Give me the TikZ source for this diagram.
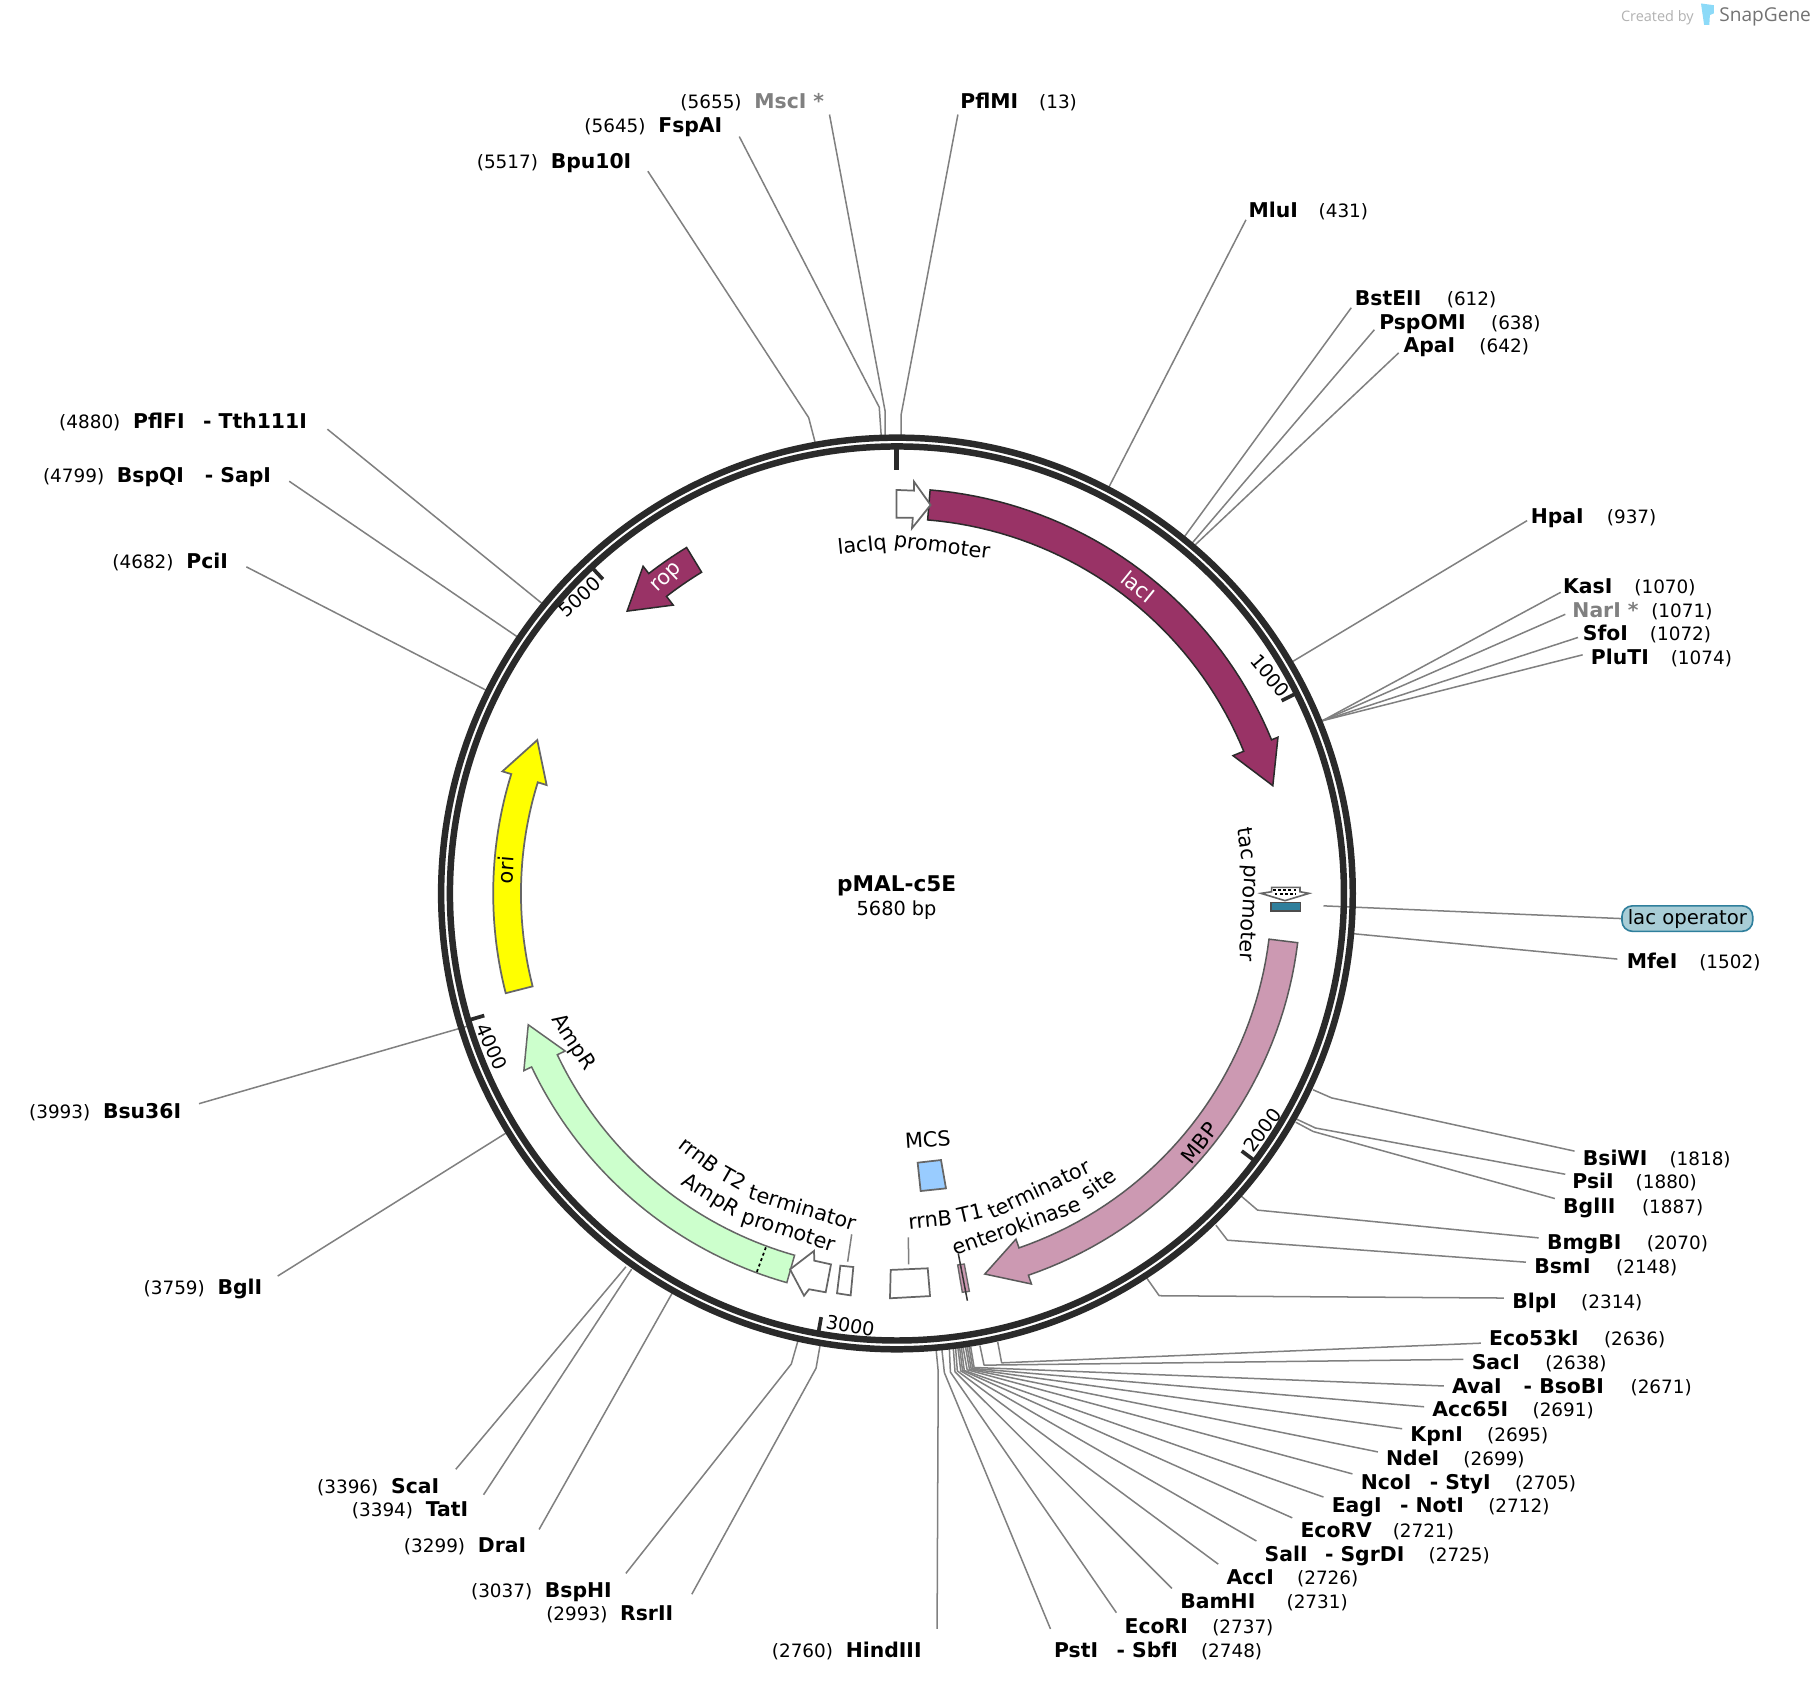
\documentclass[tikz,border=0pt]{standalone}
\usepackage{fontspec}
\setmainfont{DejaVu Sans}
\newfontfamily\brandfont{Open Sans}
\def\cx{775.3}
\def\cy{772.3}
\definecolor{ringc}{HTML}{2A2A2A}
\definecolor{linec}{HTML}{808080}
\definecolor{maroon}{HTML}{993366}
\definecolor{mbpc}{HTML}{CC99B2}
\definecolor{amprc}{HTML}{CCFFCC}
\definecolor{oric}{HTML}{FFFF00}
\definecolor{opc}{HTML}{2F7F9C}
\definecolor{pillc}{HTML}{A8CDD6}
\definecolor{mcsc}{HTML}{99CCFF}
\newcommand{\nmg}[1]{\hspace*{#1pt}}
\newcommand{\nm}[1]{{\fontsize{17.6}{20}\selectfont\bfseries #1}}
\newcommand{\gnm}[1]{{\fontsize{17.6}{20}\selectfont\bfseries\color{linec} #1}}
\newcommand{\ps}[1]{{\fontsize{15.9}{20}\selectfont #1}}
% id, x, y, label, ring, elbow, end
\newcommand{\site}[7]{%
  \node[sitelabel] (#1) at (#2,#3+4) {#4};
  \coordinate (#1-r) at (#5);
  \coordinate (#1-e) at (#6);
  \coordinate (#1-t) at (#7);
  \draw[siteline] (#1-r) -- (#1-e) -- (#1-t);
}
% style, start angle, head angle, tip angle, r in, r out, head r in, head r out, tip r
\newcommand{\featarrow}[9]{%
  \draw[#1] plot[domain=#2:#3,samples=40] ({\cx+#6*sin(\x)},{\cy-#6*cos(\x)})
    -- ({\cx+#8*sin(#3)},{\cy-#8*cos(#3)})
    -- ({\cx+#9*sin(#4)},{\cy-#9*cos(#4)})
    -- ({\cx+#7*sin(#3)},{\cy-#7*cos(#3)})
    -- plot[domain=#3:#2,samples=40] ({\cx+#5*sin(\x)},{\cy-#5*cos(\x)}) -- cycle;
}
% id, clock angle, baseline radius, rotation, word
\newcommand{\wordlab}[5]{%
  \node[wordtext,rotate=#4] (#1) at ({\cx+#3*sin(#2)},{\cy-#3*cos(#2)}) {#5};
}
\newcommand{\ticklab}[4]{\node[ticktext,rotate=#4] (t#1) at (#2,#3) {#1};}
\newcommand{\tickm}[1]{\draw[tickline] ({\cx+386*sin(#1)},{\cy-386*cos(#1)}) -- ({\cx+372*sin(#1)},{\cy-372*cos(#1)});}
\tikzset{
  sitelabel/.style={anchor=mid west,inner sep=0pt},
  siteline/.style={draw=linec,line width=1.3pt,line join=round},
  leader/.style={draw=linec,line width=1.3pt},
  tickline/.style={draw=ringc,line width=3.2pt},
  ticktext/.style={inner sep=0pt,font=\fontsize{16.5}{20}\selectfont},
  ftext/.style={inner sep=0pt,font=\fontsize{18}{20}\selectfont},
  wordtext/.style={inner sep=0pt,anchor=base,font=\fontsize{18}{20}\selectfont},
  lacstyle/.style={draw=ringc,fill=maroon,line width=1.3pt,line join=miter},
  mbpstyle/.style={draw=black!65,fill=mbpc,line width=1.3pt},
  ampstyle/.style={draw=black!60,fill=amprc,line width=1.3pt},
  oristyle/.style={draw=black!60,fill=oric,line width=1.5pt},
  hollow/.style={draw=black!60,fill=white,line width=1.5pt,line join=miter},
}
\begin{document}
\begin{tikzpicture}[x=1pt,y=-1pt]
\useasboundingbox (0,0) rectangle (1568,1453.9);
\fill[white] (0,0) rectangle (1568,1453.9);
% --- site connectors and labels
\site{PflMI}{830}{87}{\nm{PflMI}\nmg{18}\ps{(13)}}{779,381}{779,358}{828,99}
\site{MscI}{588}{87}{\ps{(5655)}\nmg{11}\gnm{MscI *}}{765,381}{765,355}{717,99}
\site{FspAI}{505}{108}{\ps{(5645)}\nmg{11}\nm{FspAI}}{762,381}{760,352}{639,118}
\site{Bpu10I}{412}{139}{\ps{(5517)}\nmg{11}\nm{Bpu10I}}{705,384}{699,361}{560,148}
\site{MluI}{1079}{181}{\nm{MluI}\nmg{18}\ps{(431)}}{957,424}{957,424}{1077,190}
\site{BstEII}{1171}{257}{\nm{BstEII}\nmg{22}\ps{(612)}}{1023,465}{1023,465}{1168,266}
\site{PspOMI}{1192}{278}{\nm{PspOMI}\nmg{22}\ps{(638)}}{1030,470}{1030,470}{1188,285}
\site{ApaI}{1213}{298}{\nm{ApaI}\nmg{21}\ps{(642)}}{1032,472}{1032,472}{1209,305}
\site{HpaI}{1323}{446}{\nm{HpaI}\nmg{20}\ps{(937)}}{1117,572}{1117,572}{1320,450}
\site{KasI}{1351}{506}{\nm{KasI}\nmg{19}\ps{(1070)}}{1143,623}{1143,623}{1349,512}
\site{NarI}{1359}{527}{\gnm{NarI *}\nmg{11}\ps{(1071)}}{1143,623}{1143,623}{1353,531}
\site{SfoI}{1368}{547}{\nm{SfoI}\nmg{19}\ps{(1072)}}{1143,623}{1143,623}{1364,551}
\site{PluTI}{1375}{568}{\nm{PluTI}\nmg{19}\ps{(1074)}}{1143,623}{1143,623}{1368,566}
\site{MfeI}{1406}{830}{\nm{MfeI}\nmg{19}\ps{(1502)}}{1169,807}{1169,807}{1398,829}
\site{BsiWI}{1368}{1001}{\nm{BsiWI}\nmg{19}\ps{(1818)}}{1135,942}{1151,949}{1361,995}
\site{PsiI}{1359}{1021}{\nm{PsiI}\nmg{19}\ps{(1880)}}{1120,967}{1137,975}{1353,1015}
\site{BglII}{1351}{1042}{\nm{BglII}\nmg{23}\ps{(1887)}}{1120,970}{1135,978}{1344,1036}
\site{BmgBI}{1337}{1073}{\nm{BmgBI}\nmg{22}\ps{(2070)}}{1073,1034}{1087,1046}{1330,1070}
\site{BsmI}{1326}{1094}{\nm{BsmI}\nmg{22}\ps{(2148)}}{1051,1059}{1061,1072}{1319,1091}
\site{BlpI}{1307}{1124}{\nm{BlpI}\nmg{21}\ps{(2314)}}{990,1103}{1002,1120}{1300,1122}
\site{Eco53kI}{1287}{1156}{\nm{Eco53kI}\nmg{22}\ps{(2636)}}{862.4,1160}{865.8,1178}{1280,1161}
\site{SacI}{1272}{1177}{\nm{SacI}\nmg{22}\ps{(2638)}}{847,1163}{850.6,1180}{1265,1175}
\site{AvaI}{1255}{1198}{\nm{AvaI}\nmg{19}\nm{- BsoBI}\nmg{23}\ps{(2671)}}{839,1164}{842,1182}{1248,1198}
\site{Acc65I}{1238}{1218}{\nm{Acc65I}\nmg{21}\ps{(2691)}}{837.6,1164}{840.8,1182.8}{1231,1216}
\site{KpnI}{1219}{1239}{\nm{KpnI}\nmg{21}\ps{(2695)}}{836,1164}{839.5,1183.3}{1212,1235}
\site{NdeI}{1198}{1260}{\nm{NdeI}\nmg{21}\ps{(2699)}}{834.5,1164}{838,1183.6}{1191,1255}
\site{NcoI}{1176}{1281}{\nm{NcoI}\nmg{16}\nm{- StyI}\nmg{21}\ps{(2705)}}{832.5,1165}{836,1184}{1169,1274}
\site{EagI}{1151}{1301}{\nm{EagI}\nmg{16}\nm{- NotI}\nmg{21}\ps{(2712)}}{831,1165}{833.5,1184.6}{1144,1294}
\site{EcoRV}{1124}{1322}{\nm{EcoRV}\nmg{18}\ps{(2721)}}{829.5,1165}{832,1184.6}{1117,1312}
\site{SalI}{1093}{1343}{\nm{SalI}\nmg{15}\nm{- SgrDI}\nmg{21}\ps{(2725)}}{828,1165}{830.5,1185}{1086,1332}
\site{AccI}{1060}{1363}{\nm{AccI}\nmg{20}\ps{(2726)}}{826,1165}{827.5,1185}{1053,1352}
\site{BamHI}{1020}{1384}{\nm{BamHI}\nmg{27}\ps{(2731)}}{824,1165}{825.5,1185.7}{1013,1373}
\site{EcoRI}{972}{1405}{\nm{EcoRI}\nmg{21}\ps{(2737)}}{820.6,1165}{821.5,1186}{965,1394}
\site{PstI}{911}{1426}{\nm{PstI}\nmg{16}\nm{- SbfI}\nmg{20}\ps{(2748)}}{814,1165}{816.3,1186.5}{908,1408}
\site{HindIII}{667}{1426}{\ps{(2760)}\nmg{11}\nm{HindIII}}{809,1165}{811,1185.6}{810,1408}
\site{RsrII}{472}{1394}{\ps{(2993)}\nmg{11}\nm{RsrII}}{709,1162}{705.4,1182.6}{598,1378}
\site{BspHI}{407}{1374}{\ps{(3037)}\nmg{11}\nm{BspHI}}{690,1158}{684,1179}{541,1360}
\site{DraI}{349}{1335}{\ps{(3299)}\nmg{11}\nm{DraI}}{582,1116}{582,1116}{466,1322}
\site{TatI}{304}{1304}{\ps{(3394)}\nmg{11}\nm{TatI}}{546,1097}{546,1097}{418,1292}
\site{ScaI}{274}{1284}{\ps{(3396)}\nmg{11}\nm{ScaI}}{541,1095}{541,1095}{394,1270}
\site{BglI}{124}{1112}{\ps{(3759)}\nmg{11}\nm{BglI}}{438,979}{438,979}{240,1103}
\site{Bsu36I}{25}{960}{\ps{(3993)}\nmg{11}\nm{Bsu36I}}{404,887}{404,887}{172,954}
\site{PciI}{97}{485}{\ps{(4682)}\nmg{11}\nm{PciI}}{421,597}{421,597}{213,490}
\site{BspQI}{37}{410}{\ps{(4799)}\nmg{11}\nm{BspQI}\nmg{18}\nm{- SapI}}{448,551}{448,551}{250,416}
\site{PflFI}{51}{364}{\ps{(4880)}\nmg{11}\nm{PflFI}\nmg{16}\nm{- Tth111I}}{469,522}{469,522}{283,371}
% lac operator pill
\node[draw=opc,fill=pillc,line width=1.4pt,rounded corners=9pt,minimum width=113pt,minimum height=22pt,inner sep=0pt,font=\fontsize{17}{20}\selectfont] (lacop) at (1458.5,794) {\raisebox{-2pt}{lac operator}};
\coordinate (lacop-r) at (1144,783);
\draw[siteline] (lacop-r) -- (lacop.west);
% --- backbone
\draw[ringc,line width=5.6pt] (\cx,\cy) circle[radius=394];
\draw[ringc,line width=5.6pt] (\cx,\cy) circle[radius=386.4];
\draw[tickline,line width=4.4pt] (\cx,\cy-388) -- (\cx,\cy-366);
\tickm{63.38}\tickm{126.76}\tickm{190.14}\tickm{253.52}\tickm{316.9}
\ticklab{1000}{1098}{584}{-50}
\ticklab{2000}{1091}{977}{53}
\ticklab{3000}{735}{1146}{-10}
\ticklab{4000}{425}{905}{-66}
\ticklab{5000}{501}{516}{43}
% --- features
\featarrow{lacstyle}{4.7}{67.7}{74}{324}{350}{314}{356}{338}
\featarrow{lacstyle}{328.7}{322.2}{316.3}{325}{350}{315.5}{358}{337.6}
\featarrow{mbpstyle}{97}{161}{167}{324}{349}{316}{357}{337.6}
\featarrow{ampstyle}{195.8}{244.6}{250.4}{325}{349.6}{317.5}{357}{338.3}
\featarrow{oristyle}{255.7}{287.2}{293.1}{325}{349}{317}{357}{338}
\coordinate (dashA) at (662,1078.2);
\coordinate (dashB) at (654,1100);
\draw[black,line width=1.5pt,dash pattern=on 2.5pt off 2.5pt] (dashA) -- (dashB);
% lacIq promoter
\draw[hollow] (775,423.5) -- (790,424.1) -- (790,416.3) -- (804.4,436.5) -- (788.3,456.6) -- (789,447.5) -- (775,447.5) -- cycle;
% AmpR promoter
\draw[hollow] (682.9,1097.2) -- (703.6,1081.3) -- (703.9,1089.7) -- (718.3,1092.9) -- (713.7,1117) -- (699.3,1114.4) -- (695,1120) -- cycle;
% rrnB T2
\draw[hollow] (726.4,1094) -- (737.6,1095.2) -- (735.3,1119.7) -- (723.5,1117.9) -- cycle;
\coordinate (t2a) at (736.2,1066.9); \coordinate (t2b) at (732.7,1090.6);
\draw[leader] (t2a) -- (t2b);
% rrnB T1
\draw[hollow] (769.9,1097.7) -- (801.9,1096.3) -- (803.9,1120.3) -- (769.3,1122.2) -- cycle;
\coordinate (t1a) at (785.2,1069.5); \coordinate (t1b) at (785.4,1092.9);
\draw[leader] (t1a) -- (t1b);
% MCS
\draw[draw=black!60,fill=mcsc,line width=1.5pt] (793.2,1005) -- (813.4,1002.7) -- (817.7,1027.2) -- (795.8,1029.5) -- cycle;
% enterokinase site
\draw[draw=black!60,fill=mbpc,line width=1.2pt] (827.8,1093.4) -- (833.5,1092.6) -- (837.9,1116.2) -- (831.8,1117) -- cycle;
\coordinate (eka) at (828.3,1083.4); \coordinate (ekb) at (836.2,1124.3);
\draw[draw=black!80,line width=1.3pt] (eka) -- (ekb);
% tac promoter
\draw[hollow,line width=1.4pt] (1099.2,767) -- (1123.7,767) -- (1123.7,770.8) -- (1131.5,772.2) -- (1110.7,778.5) -- (1090,772.2) -- (1099.2,770.8) -- cycle;
\coordinate (da) at (1100.5,769.5); \coordinate (db) at (1122.5,769.5);
\coordinate (dc) at (1102,773); \coordinate (dd) at (1120,773);
\draw[black,line width=1.5pt,dash pattern=on 2.2pt off 2.2pt] (da) -- (db);
\draw[black,line width=1.5pt,dash pattern=on 2.2pt off 2.2pt] (dc) -- (dd);
% lac operator feature
\draw[draw=black!70,fill=opc,line width=1.3pt] (1098.7,780) rectangle (1124.3,787.4);
% --- feature labels, word by word along the circle
\wordlab{lacIqA}{-5.7}{297}{5.7}{lacIq}
\wordlab{lacIqB}{7.4}{297}{-7.4}{promoter}
\wordlab{tacA}{81.9}{299}{-81.9}{tac}
\wordlab{tacB}{93.15}{299}{-93.15}{promoter}
\wordlab{tOneA}{174.2}{290}{5.8}{rrnB}
\wordlab{tOneB}{167.1}{290}{12.9}{T1}
\wordlab{tOneC}{154.4}{290}{25.6}{terminator}
\wordlab{ekA}{160.2}{312}{19.8}{enterokinase}
\wordlab{ekB}{145.2}{312}{34.8}{site}
\wordlab{tTwoA}{217.1}{290}{-37.1}{rrnB}
\wordlab{tTwoB}{209.8}{290}{-29.8}{T2}
\wordlab{tTwoC}{196.7}{290}{-16.7}{terminator}
\wordlab{aprA}{211.7}{312}{-31.7}{AmpR}
\wordlab{aprB}{197.8}{312}{-17.8}{promoter}
\node[ftext,white,rotate=-39] (lacIlab) at (984,507) {lacI};
\node[ftext,white,rotate=44] (roplab) at (577,500) {rop};
\node[ftext,rotate=85] (orilab) at (437,752) {ori};
\node[ftext,rotate=52] (mbplab) at (1037,988) {MBP};
\node[ftext,rotate=-57] (amprlab) at (495,901) {AmpR};
\node[ftext,rotate=4] (mcslab) at (802,985) {MCS};
\node[inner sep=0pt,font=\fontsize{18.7}{20}\selectfont\bfseries] (title) at (775,766) {pMAL-c5E};
\node[inner sep=0pt,font=\fontsize{16.7}{20}\selectfont] (size) at (775,787) {5680 bp};
% --- brand
\node[inner sep=0pt,anchor=mid west,text=black!30,font=\brandfont\fontsize{12.5}{15}\selectfont] (created) at (1401,16) {Created by};
\fill[cyan!45!white] (1470.3,3) -- (1481.5,4.5) -- (1481.5,11.5) -- (1478,13) -- (1477.5,21.5) -- (1473,21.5) -- cycle;
\node[inner sep=0pt,anchor=mid west,text=black!55,font=\brandfont\fontsize{16.5}{20}\selectfont] (brand) at (1486,16) {SnapGene};
\end{tikzpicture}
\end{document}
